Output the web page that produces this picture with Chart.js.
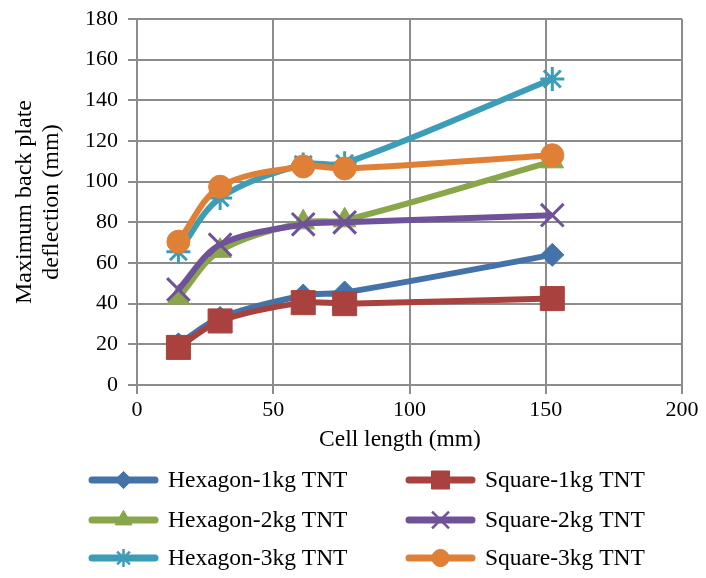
<!DOCTYPE html>
<html>
<head>
<meta charset="utf-8">
<script src="https://cdn.jsdelivr.net/npm/chart.js@4.4.1/dist/chart.umd.min.js"></script>
<style>
  html, body { margin: 0; padding: 0; background: #fff; }
  #wrap { width: 706px; height: 578px; position: relative; }
</style>
</head>
<body>
<div id="wrap"><canvas id="deflectionChart" width="706" height="578"></canvas></div>
<script>
// cell length (mm) and back plate deflection (mm) per panel / charge
var cellLength = [15.2, 30.5, 61, 76.2, 152.4];
var hexagon1kg = [20, 33, 44, 45.5, 64];
var square1kg  = [18.5, 31.5, 40.5, 40, 42.5];
var hexagon2kg = [43, 66, 80, 81, 110];
var square2kg  = [47, 69, 79, 80, 83.5];
var hexagon3kg = [65.5, 92, 108.5, 109, 150.5];
var square3kg  = [70.5, 97.5, 107.5, 106.5, 113];

var seriesNames = ["Hexagon-1kg TNT", "Square-1kg TNT", "Hexagon-2kg TNT", "Square-2kg TNT", "Hexagon-3kg TNT", "Square-3kg TNT"];
var seriesValues = [hexagon1kg, square1kg, hexagon2kg, square2kg, hexagon3kg, square3kg];
var seriesColors = ["#4473A9", "#A9423E", "#8AA64B", "#70529A", "#3D9CB8", "#E07F36"];
var seriesMarkers = ["rectRot", "rect", "triangle", "crossRot", "star", "circle"];
var markerRadius = [11.5, 17, 13, 16, 12, 11.5];

var serif = "'Liberation Serif', 'Times New Roman', serif";
var gridGray = "#8C8C8C";

function isStroked(style) {
  return style == "crossRot" || style == "star";
}

var datasets = seriesNames.map(function (name, i) {
  return {
    label: name,
    data: cellLength.map(function (x, j) { return { x: x, y: seriesValues[i][j] }; }),
    borderColor: seriesColors[i],
    backgroundColor: seriesColors[i],
    borderWidth: 6,
    tension: 0.33,
    pointStyle: seriesMarkers[i],
    pointRadius: markerRadius[i],
    pointHoverRadius: markerRadius[i],
    pointBackgroundColor: seriesColors[i],
    pointBorderColor: seriesColors[i],
    pointBorderWidth: isStroked(seriesMarkers[i]) ? 3 : 1,
    order: seriesNames.length - i
  };
});

// legend under the plot: two columns, line sample with marker
var legendBelow = {
  id: 'legendBelow',
  afterDraw: function (chart) {
    var ctx = chart.ctx;
    var colX = [89, 406];
    var rowY = [480, 520, 558];
    ctx.save();
    // x axis title
    ctx.font = "23.5px " + serif;
    ctx.fillStyle = "#000";
    ctx.textAlign = "center";
    ctx.textBaseline = "middle";
    ctx.fillText("Cell length (mm)", 400, 440);

    ctx.textAlign = "left";
    seriesNames.forEach(function (name, i) {
      var x = colX[i % 2];
      var y = rowY[Math.floor(i / 2)];
      ctx.strokeStyle = seriesColors[i];
      ctx.fillStyle = seriesColors[i];
      ctx.lineWidth = 7;
      ctx.lineCap = "round";
      ctx.beginPath();
      ctx.moveTo(x + 3, y);
      ctx.lineTo(x + 66, y);
      ctx.stroke();
      ctx.lineCap = "butt";
      ctx.lineWidth = isStroked(seriesMarkers[i]) ? 2.5 : 1;
      Chart.helpers.drawPoint(ctx, {
        pointStyle: seriesMarkers[i],
        radius: markerRadius[i] * 0.75,
        borderWidth: ctx.lineWidth,
        rotation: 0
      }, x + 34.5, y);
      ctx.fillStyle = "#000";
      ctx.fillText(name, x + 79, y + 1);
    });
    ctx.restore();
  }
};

var ctx = document.getElementById("deflectionChart").getContext('2d');
var deflectionChart = new Chart(ctx, {
  type: 'line',
  data: { datasets: datasets },
  plugins: [legendBelow],
  options: {
    responsive: false,
    animation: false,
    layout: { padding: { top: 14, right: 24, bottom: 0, left: 0 } },
    plugins: {
      legend: { display: false },
      tooltip: { enabled: false }
    },
    scales: {
      x: {
        type: 'linear',
        min: 0,
        max: 200,
        ticks: { stepSize: 50, color: "#000", padding: 3, font: { family: serif, size: 22 } },
        grid: { color: gridGray, lineWidth: 2, tickLength: 9 },
        border: { color: gridGray, width: 2 },
        afterFit: function (s) {
          s.height = 193;
          s.paddingLeft = 0;
          s.paddingRight = 0;
        }
      },
      y: {
        min: 0,
        max: 180,
        ticks: { stepSize: 20, color: "#000", padding: 10, font: { family: serif, size: 22 } },
        grid: { color: gridGray, lineWidth: 2, tickLength: 9 },
        border: { color: gridGray, width: 2 },
        title: {
          display: true,
          text: ["Maximum back plate", "deflection (mm)"],
          color: "#000",
          font: { family: serif, size: 24, lineHeight: 1.13 },
          padding: { top: 11.5, bottom: 0 }
        },
        afterFit: function (s) {
          s.width = 137;
          s.paddingTop = 0;
          s.paddingBottom = 0;
        }
      }
    }
  }
});
</script>
</body>
</html>
